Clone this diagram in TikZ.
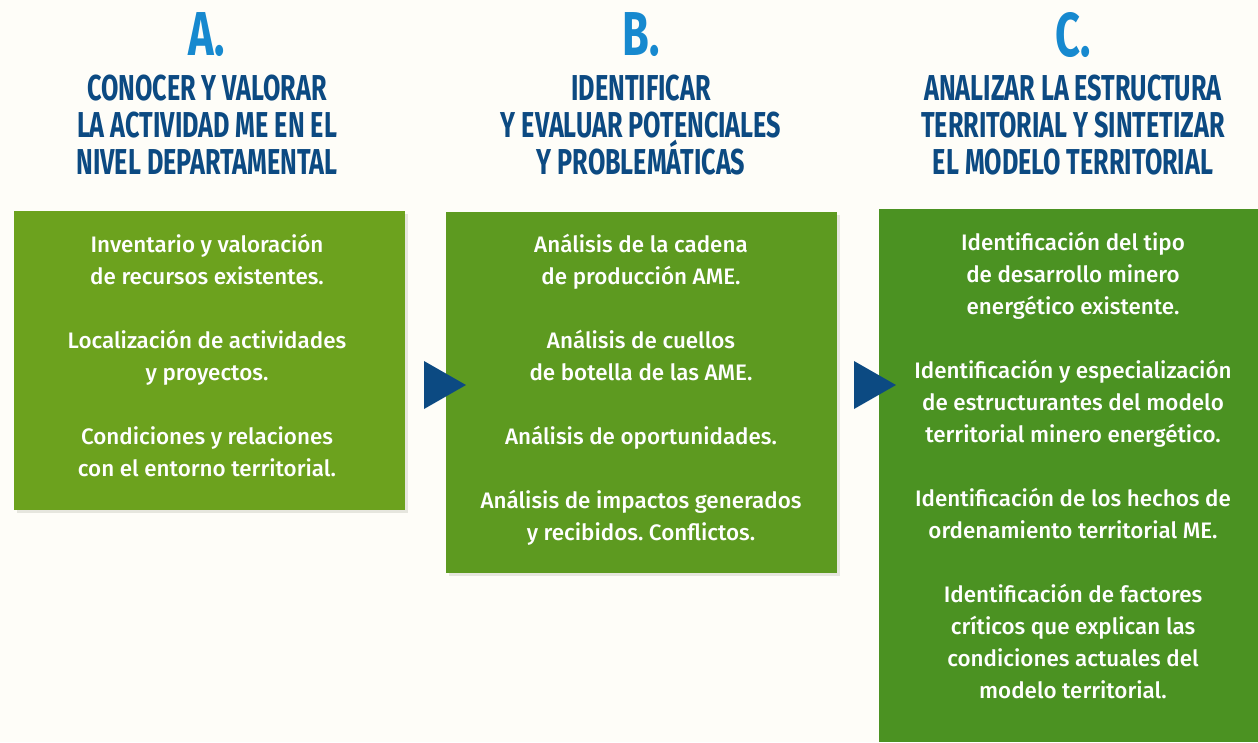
\documentclass[tikz,border=0pt]{standalone}
\usepackage{fontspec}
\newfontfamily\bodyfont{Fira Sans Medium}
\newfontfamily\headfont[FakeStretch=0.70]{Fira Sans Bold}
\usetikzlibrary{positioning,calc,shadows}
\frenchspacing

\definecolor{bgcream}{HTML}{FEFDF8}
\definecolor{greenA}{HTML}{6CA21E}
\definecolor{greenB}{HTML}{5D9A20}
\definecolor{greenC}{HTML}{4B9222}
\definecolor{letterblue}{HTML}{1789CF}
\definecolor{titleblue}{HTML}{0C4A82}
\definecolor{shadowgray}{HTML}{E6E6DE}

\tikzset{
  stagebox/.style={anchor=north west, inner sep=0pt, minimum width=391pt},
  boxshadow/.style={drop shadow={shadow xshift=3pt, shadow yshift=-3pt, fill=shadowgray, opacity=1}},
  stagetext/.style={anchor=north, inner sep=0pt, align=center, text=white,
    font=\bodyfont\fontsize{22.4}{32}\selectfont},
  stageletter/.style={inner sep=0pt, text=letterblue, font=\headfont\fontsize{62}{62}\selectfont},
  stagetitle/.style={anchor=north, inner sep=0pt, align=center, text=titleblue,
    font=\headfont\fontsize{36}{37}\selectfont},
  steparrow/.style={fill=titleblue}
}

\begin{document}
\begin{tikzpicture}[x=1pt,y=-1pt]
        % background and page size
        \fill[bgcream] (0,0) rectangle (1258,742);
        \useasboundingbox (0,0) rectangle (1258,742);

        % the three green boxes
        \node[stagebox, boxshadow, fill=greenA, minimum height=299pt] (boxA) at (14,211) {};
        \node[stagebox, boxshadow, fill=greenB, minimum height=361pt] (boxB) at (446,212) {};
        \node[stagebox, fill=greenC, minimum width=379pt, minimum height=533pt] (boxC) at (879,209) {};

        % arrows between the boxes
        \fill[steparrow] (424,361) -- (466,385) -- (424,409) -- cycle;
        \fill[steparrow] (854,361) -- (896,385) -- (854,409) -- cycle;

        % letters and titles
        \node[stageletter] (letterA) at (207,35) {A.};
        \node[stageletter] (letterB) at (641,35) {B.};
        \node[stageletter] (letterC) at (1073,35) {C.};
        \node[stagetitle] (titleA) at (207,75) {CONOCER Y VALORAR\\LA ACTIVIDAD ME EN EL\\NIVEL DEPARTAMENTAL};
        \node[stagetitle] (titleB) at (641,75) {IDENTIFICAR\\Y EVALUAR POTENCIALES\\Y PROBLEMÁTICAS};
        \node[stagetitle] (titleC) at (1073,75) {ANALIZAR LA ESTRUCTURA\\TERRITORIAL Y SINTETIZAR\\EL MODELO TERRITORIAL};

        % box contents, centred under the titles
        \node[stagetext] (textA) at ($(titleA.north |- boxA.north)+(0,23)$)
          {Inventario y valoración\\de recursos existentes.\\[32pt]
           Localización de actividades\\y proyectos.\\[32pt]
           Condiciones y relaciones\\con el entorno territorial.};
        \node[stagetext] (textB) at ($(titleB.north |- boxB.north)+(0,22)$)
          {Análisis de la cadena\\de producción AME.\\[32pt]
           Análisis de cuellos\\de botella de las AME.\\[32pt]
           Análisis de oportunidades.\\[32pt]
           Análisis de impactos generados\\y recibidos. Conflictos.};
        \node[stagetext] (textC) at ($(titleC.north |- boxC.north)+(0,23)$)
          {Identificación del tipo\\de desarrollo minero\\energético existente.\\[32pt]
           Identificación y especialización\\de estructurantes del modelo\\territorial minero energético.\\[32pt]
           Identificación de los hechos de\\ordenamiento territorial ME.\\[32pt]
           Identificación de factores\\críticos que explican las\\condiciones actuales del\\modelo territorial.};
\end{tikzpicture}
\end{document}
